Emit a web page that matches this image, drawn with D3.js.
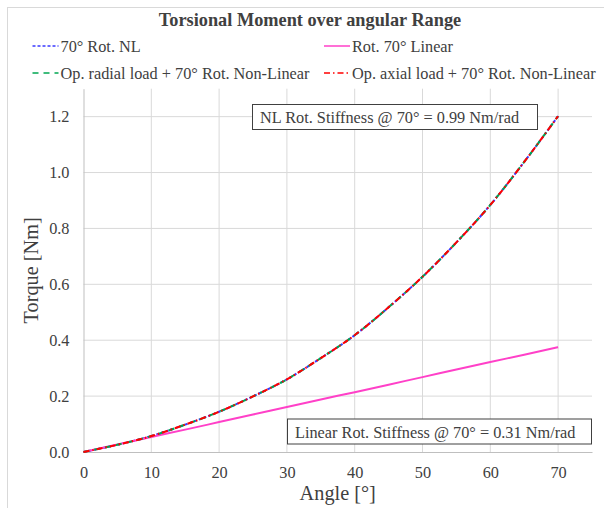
<!DOCTYPE html>
<html>
<head>
<meta charset="utf-8">
<script src="https://cdn.jsdelivr.net/npm/d3@7"></script>
<style>
  html, body { margin: 0; padding: 0; background: #fff; }
  text { font-family: "Liberation Serif", "Times New Roman", serif; fill: #404040; }
</style>
</head>
<body>
<div id="chart"></div>
<script>
'use strict';

// Data
var angles = [0, 5, 10, 15, 20, 25, 30, 35, 40, 45, 50, 55, 60, 65, 70];
var rotNL = [0, 0.026, 0.057, 0.098, 0.144, 0.199, 0.260, 0.336, 0.418, 0.518, 0.627, 0.750, 0.884, 1.038, 1.202];
var rotLinear = [0, 0.027, 0.054, 0.080, 0.107, 0.134, 0.161, 0.188, 0.214, 0.241, 0.268, 0.295, 0.322, 0.348, 0.375];
var radialNL = [0, 0.026, 0.057, 0.098, 0.144, 0.199, 0.260, 0.336, 0.418, 0.518, 0.627, 0.750, 0.884, 1.038, 1.202];
var axialNL = [0, 0.026, 0.057, 0.098, 0.144, 0.199, 0.260, 0.336, 0.418, 0.518, 0.627, 0.750, 0.884, 1.038, 1.202];
var xTicks = [0, 10, 20, 30, 40, 50, 60, 70];
var yTicks = [0, 0.2, 0.4, 0.6, 0.8, 1.0, 1.2];

var series = [
	{ name: '70° Rot. NL', values: rotNL, color: '#3a3aff', dash: '3,2' },
	{ name: 'Rot. 70° Linear', values: rotLinear, color: '#ff40c8', dash: null },
	{ name: 'Op. radial load + 70° Rot. Non-Linear', values: radialNL, color: '#00a651', dash: '6,5' },
	{ name: 'Op. axial load + 70° Rot. Non-Linear', values: axialNL, color: '#ff0000', dash: '6,3,1.5,3' }
];

var width = 604, height = 508;
var plot = { left: 83.5, right: 592, top: 88.7, bottom: 452 };
var fontSize = 16.3;

var svg = d3.select('#chart')
	.append('svg')
	.attr('width', width)
	.attr('height', height);

// chart border
svg.append('rect')
	.attr('x', 7.5).attr('y', 7.5)
	.attr('width', 620).attr('height', 520)
	.attr('fill', 'none')
	.attr('stroke', '#d9d9d9');

var x = d3.scaleLinear().domain([0, 75]).range([plot.left, plot.right]);
var y = d3.scaleLinear().domain([0, 1.3]).range([plot.bottom, plot.top]);

// gridlines
svg.append('g')
	.selectAll('line')
	.data(xTicks.slice(1))
	.enter().append('line')
	.attr('x1', function (d) { return x(d); })
	.attr('x2', function (d) { return x(d); })
	.attr('y1', plot.top).attr('y2', plot.bottom)
	.attr('stroke', '#d9d9d9');

svg.append('g')
	.selectAll('line')
	.data(yTicks.slice(1))
	.enter().append('line')
	.attr('x1', plot.left).attr('x2', plot.right)
	.attr('y1', function (d) { return y(d); })
	.attr('y2', function (d) { return y(d); })
	.attr('stroke', '#d9d9d9');

// axes
var xAxis = svg.append('g')
	.attr('transform', 'translate(0,' + plot.bottom + ')')
	.call(d3.axisBottom(x).tickValues(xTicks).tickSize(0).tickPadding(14).tickFormat(d3.format('d')));
var yAxis = svg.append('g')
	.attr('transform', 'translate(' + plot.left + ',0)')
	.call(d3.axisLeft(y).tickValues(yTicks).tickSize(0).tickPadding(14).tickFormat(d3.format('.1f')));

[xAxis, yAxis].forEach(function (g) {
	g.select('.domain').attr('stroke', '#bfbfbf');
	g.selectAll('text')
		.attr('font-family', '"Liberation Serif", "Times New Roman", serif')
		.attr('font-size', fontSize)
		.attr('fill', '#595959');
});

// lines
var line = d3.line()
	.x(function (d, i) { return x(angles[i]); })
	.y(function (d) { return y(d); })
	.curve(d3.curveMonotoneX);

svg.append('g')
	.selectAll('path')
	.data(series)
	.enter().append('path')
	.attr('d', function (d) { return line(d.values); })
	.attr('fill', 'none')
	.attr('stroke', function (d) { return d.color; })
	.attr('stroke-width', 2)
	.attr('stroke-dasharray', function (d) { return d.dash; });

// title
svg.append('text')
	.attr('x', 310).attr('y', 26)
	.attr('text-anchor', 'middle')
	.attr('font-size', 18.3)
	.attr('font-weight', 'bold')
	.text('Torsional Moment over angular Range');

// legend
var legendPos = [
	{ x: 32.5, y: 46 },
	{ x: 324, y: 46 },
	{ x: 32.5, y: 73 },
	{ x: 324, y: 73 }
];
var legend = svg.append('g')
	.selectAll('g')
	.data(series)
	.enter().append('g')
	.attr('transform', function (d, i) { return 'translate(' + legendPos[i].x + ',' + legendPos[i].y + ')'; });

legend.append('line')
	.attr('x1', 0).attr('x2', 26)
	.attr('y1', 0).attr('y2', 0)
	.attr('stroke', function (d) { return d.color; })
	.attr('stroke-width', 1.5)
	.attr('stroke-dasharray', function (d) { return d.dash; });

legend.append('text')
	.attr('x', 28).attr('y', 5.5)
	.attr('font-size', fontSize)
	.attr('fill', '#404040')
	.text(function (d) { return d.name; });

// annotation boxes
function annotate(left, top, w, txt) {
	var g = svg.append('g');
	g.append('rect')
		.attr('x', left).attr('y', top)
		.attr('width', w).attr('height', 25)
		.attr('fill', '#fff')
		.attr('stroke', '#404040')
		.attr('stroke-width', 1);
	g.append('text')
		.attr('x', left + 7.5).attr('y', top + 18.5)
		.attr('font-size', fontSize)
		.attr('fill', '#000')
		.text(txt);
}
annotate(252.5, 104.5, 285, 'NL Rot. Stiffness @ 70° = 0.99 Nm/rad');
annotate(287.5, 419, 304, 'Linear Rot. Stiffness @ 70° = 0.31 Nm/rad');

// axis titles
svg.append('text')
	.attr('x', (plot.left + plot.right) / 2).attr('y', 500)
	.attr('text-anchor', 'middle')
	.attr('font-size', 20.3)
	.attr('fill', '#404040')
	.text('Angle [°]');

svg.append('text')
	.attr('transform', 'translate(38,' + ((plot.top + plot.bottom) / 2) + ') rotate(-90)')
	.attr('text-anchor', 'middle')
	.attr('font-size', 20.3)
	.attr('fill', '#404040')
	.text('Torque [Nm]');
</script>
</body>
</html>
